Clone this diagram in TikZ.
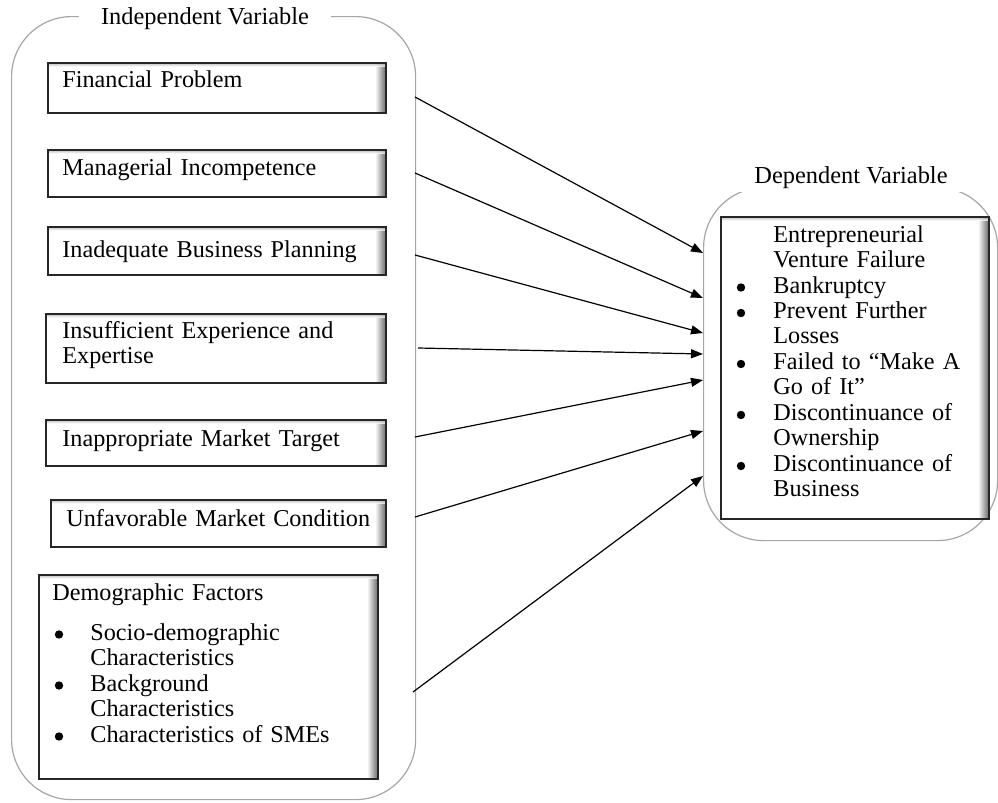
\documentclass[tikz,border=0pt]{standalone}
\usepackage{fontspec}
\setmainfont{Liberation Serif}
\usepackage{tikz}
\usepackage{xcolor}
\usetikzlibrary{calc}
\usetikzlibrary{positioning}
\usetikzlibrary{arrows.meta}

\begin{document}
\begin{tikzpicture}[x=0.5pt,y=-0.5pt,
  container/.style={draw=black!35, line width=0.6pt, rectangle, rounded corners=30pt, anchor=north west, inner sep=0pt},
  grouplabel/.style={fill=white, anchor=base, inner xsep=11pt, inner ysep=2pt, font=\fontsize{12.2}{13}\selectfont},
  varbox/.style={draw=black!85, line width=0.8pt, fill=white, rectangle, anchor=north west, inner sep=0pt,
    path picture={
      \foreach \k [evaluate=\k as \g using 5.5*\k] in {1,...,10}
        \fill[black!\g] ([xshift={-5.5pt+\k*0.5pt}]path picture bounding box.north east) rectangle ([xshift={-5pt+\k*0.5pt}]path picture bounding box.south east);
      \foreach \k [evaluate=\k as \g using 40-9*\k] in {1,...,4}
        \fill[black!\g, opacity=0.8] ([yshift={-\k*0.5pt+0.5pt}]path picture bounding box.north west) rectangle ([yshift={-\k*0.5pt}]path picture bounding box.north east);
    }},
  vartext/.style={anchor=base west, inner sep=0pt, align=left, text width=160pt, font=\fontsize{12.1}{12.75}\selectfont},
  dot/.style={fill=black},
  flow/.style={-{Triangle[length=6pt,width=4.5pt]}, line width=0.6pt}
]
\useasboundingbox (0,0) rectangle (998,803);

% the two groups
\node[container, minimum width=202pt, minimum height=391.5pt] (indep) at (11,16) {};
\node[grouplabel] (indeplabel) at (205,25) {Independent Variable};
\node[container, minimum width=147pt, minimum height=176.5pt] (dep) at (703,187) {};
\node[grouplabel, inner xsep=14pt] (deplabel) at (851,183) {Dependent Variable};

% independent variables
\node[varbox, minimum width=169pt, minimum height=25pt] (fin) at (47,62) {};
\node[vartext] (fintext) at (62,87) {Financial Problem};
\node[varbox, minimum width=169pt, minimum height=23.5pt] (man) at (47,149) {};
\node[vartext] (mantext) at (62,175) {Managerial Incompetence};
\node[varbox, minimum width=169pt, minimum height=24pt] (plan) at (47,226) {};
\node[vartext] (plantext) at (62,257) {Inadequate Business Planning};
\node[varbox, minimum width=170pt, minimum height=34.5pt] (exp) at (45,313) {};
\node[vartext] (exptext) at (62,338) {Insufficient Experience and\\Expertise};
\node[varbox, minimum width=170pt, minimum height=23pt] (mkt) at (45,419) {};
\node[vartext] (mkttext) at (62,446) {Inappropriate Market Target};
\node[varbox, minimum width=167.5pt, minimum height=23.5pt] (cond) at (50,499) {};
\node[vartext] (condtext) at (66,526) {Unfavorable Market Condition};
\node[varbox, minimum width=169.5pt, minimum height=102pt] (demo) at (38,574) {};
\node[vartext] (demotext) at (52,600) {Demographic Factors\\[7.25pt]
  \hspace*{19pt}Socio-demographic\\
  \hspace*{19pt}Characteristics\\
  \hspace*{19pt}Background\\
  \hspace*{19pt}Characteristics\\
  \hspace*{19pt}Characteristics of SMEs};
\foreach \y in {640,691,742}
  \fill[dot] (59,\y-5.5) circle [x radius=4.2, y radius=4.2];

% dependent variable
\node[varbox, minimum width=134pt, minimum height=151pt] (fail) at (720,216) {};
\node[vartext, text width=130pt] (failtext) at (737,242) {\hspace*{18pt}Entrepreneurial\\
  \hspace*{18pt}Venture Failure\\
  \hspace*{18pt}Bankruptcy\\
  \hspace*{18pt}Prevent Further\\
  \hspace*{18pt}Losses\\
  \hspace*{18pt}Failed to ``Make A\\
  \hspace*{18pt}Go of It''\\
  \hspace*{18pt}Discontinuance of\\
  \hspace*{18pt}Ownership\\
  \hspace*{18pt}Discontinuance of\\
  \hspace*{18pt}Business};
\foreach \y in {293,318.5,369.5,420.5,471.5}
  \fill[dot] (741,\y-5.5) circle [x radius=4.2, y radius=4.2];

% connectors
\coordinate (s1) at (415,97);
\coordinate (s2) at (415,173);
\coordinate (s3) at (415,255);
\coordinate (s4) at (418,348);
\coordinate (s5) at (415,437);
\coordinate (s6) at (415,517);
\coordinate (s7) at (413,692);
\coordinate (e1) at (703,253);
\coordinate (e2) at (703,298);
\coordinate (e3) at (703,333);
\coordinate (e4) at (703,354);
\coordinate (e5) at (703,380);
\coordinate (e6) at (703,431);
\coordinate (e7) at (703,476);
\foreach \i in {1,...,7}
  \draw[flow] (s\i) -- (e\i);

\end{tikzpicture}
\end{document}
